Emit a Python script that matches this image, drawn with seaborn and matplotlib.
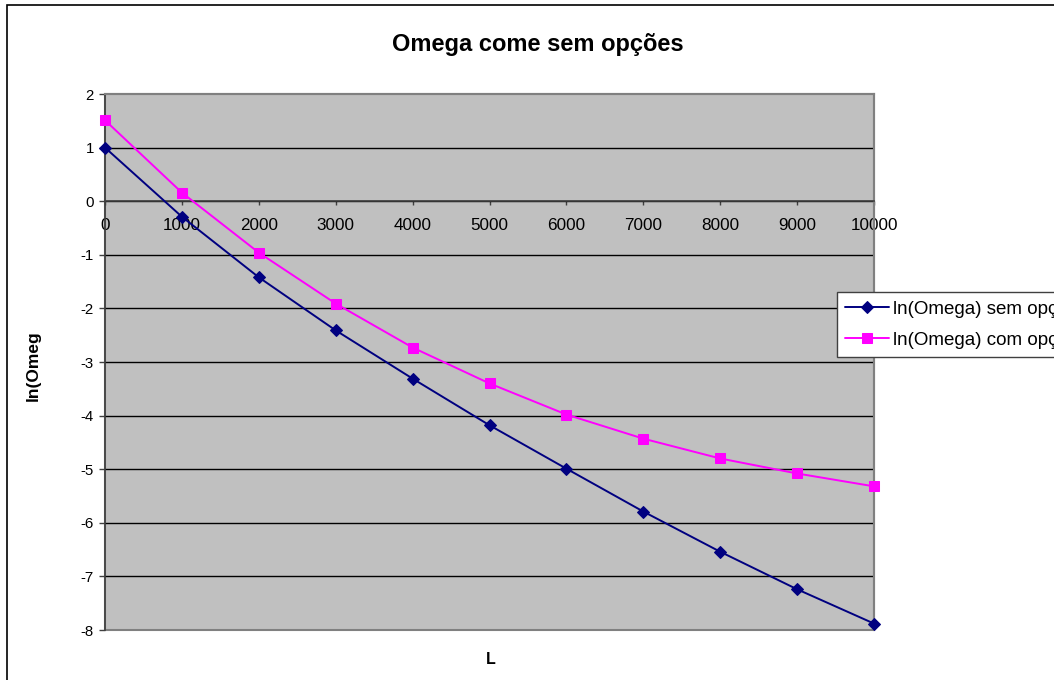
import numpy as np
import pandas as pd
import matplotlib
matplotlib.use("Agg")
import matplotlib.pyplot as plt
from matplotlib.patches import Rectangle
import seaborn as sns

L_values = [0, 1000, 2000, 3000, 4000, 5000, 6000, 7000, 8000, 9000, 10000]
ln_sem = [1.0, -0.29, -1.42, -2.41, -3.31, -4.18, -4.99, -5.79, -6.54, -7.24, -7.88]
ln_com = [1.51, 0.16, -0.96, -1.91, -2.73, -3.40, -3.98, -4.43, -4.80, -5.08, -5.32]
series_names = ["ln(Omega) sem opções", "ln(Omega) com opções"]
y_ticks = [2, 1, 0, -1, -2, -3, -4, -5, -6, -7, -8]
title_text = "Omega come sem opções"
x_label = "L"
y_label = "ln(Omeg"

sns.set_style("white")
plt.rcParams['font.family'] = ['Liberation Sans', 'DejaVu Sans']
plt.rcParams['axes.unicode_minus'] = False
for k in ['text.color', 'xtick.color', 'ytick.color', 'axes.labelcolor']:
    plt.rcParams[k] = 'black'

W, H = 1054, 680
fig = plt.figure(figsize=(W / 100, H / 100), dpi=100)
fig.patch.set_facecolor("white")

# chart area border
fig.patches.append(Rectangle((7 / W, -0.1), 1.2, (H - 5) / H + 0.1, transform=fig.transFigure,
                             fill=False, edgecolor="black", linewidth=1.2, zorder=0))

left, right, top, bottom = 105, 874, 94, 630
ax = fig.add_axes([left / W, 1 - bottom / H, (right - left) / W, (bottom - top) / H])
ax.set_facecolor("#C0C0C0")

df = pd.DataFrame({"L": L_values * 2,
                   "val": ln_sem + ln_com,
                   "serie": [series_names[0]] * len(L_values) + [series_names[1]] * len(L_values)})

sns.lineplot(data=df[df.serie == series_names[0]], x="L", y="val", color="#000080",
             marker="D", markersize=6.5, markeredgecolor="#000080", linewidth=1.4,
             label=series_names[0], ax=ax, clip_on=False, zorder=5)
sns.lineplot(data=df[df.serie == series_names[1]], x="L", y="val", color="#FF00FF",
             marker="s", markersize=6.5, markeredgecolor="#FF00FF", linewidth=1.4,
             label=series_names[1], ax=ax, clip_on=False, zorder=5)

ax.set_xlim(0, 10000)
ax.set_ylim(-8, 2)
ax.set_yticks(y_ticks)
ax.set_xticks(L_values)
ax.set_xticklabels([str(v) for v in L_values])

for yv in y_ticks:
    if -8 < yv < 2:
        ax.axhline(yv, color="black", linewidth=1.0, zorder=1)

for s in ["top", "right"]:
    ax.spines[s].set_color("#808080")
    ax.spines[s].set_linewidth(1.5)
ax.spines["left"].set_color("#404040")
ax.spines["left"].set_linewidth(1.2)
ax.spines["bottom"].set_position(("data", 0))
ax.spines["bottom"].set_color("#404040")
ax.spines["bottom"].set_linewidth(1.2)
ax.add_patch(Rectangle((0, 0), 1, 1, transform=ax.transAxes, fill=False,
                       edgecolor="#808080", linewidth=1.5, zorder=0.5, clip_on=False))

ax.tick_params(axis="x", direction="out", length=3, width=1, color="#404040",
               labelsize=12.3, pad=9, bottom=True, labelcolor="black")
ax.tick_params(axis="y", direction="out", length=4, width=1, color="#404040",
               labelsize=10.8, pad=4, left=True, labelcolor="black")
ax.set_xlabel("")
ax.set_ylabel("")

fig.text(538 / W, 1 - 45 / H, title_text, ha="center", va="center",
         fontsize=17, fontweight="bold", color="black")
fig.text(491 / W, 1 - 660 / H, x_label, ha="center", va="center",
         fontsize=11.5, fontweight="bold", color="black")
fig.text(33 / W, 1 - 401 / H, y_label, ha="center", va="bottom", rotation=90,
         fontsize=12.5, fontweight="bold", color="black")

leg = ax.legend(loc="upper left", bbox_to_anchor=(837 / W, 1 - 292 / H),
                bbox_transform=fig.transFigure, frameon=True, fancybox=False,
                fontsize=13.5, handlelength=2.3, borderpad=0.45, labelspacing=0.75,
                handletextpad=0.25, borderaxespad=0, markerscale=1.0, framealpha=1.0)
leg.get_frame().set_edgecolor("#404040")
leg.get_frame().set_linewidth(1.0)
leg.get_frame().set_facecolor("white")
for t in leg.get_texts():
    t.set_color("black")
leg.set_zorder(10)

fig.savefig("out.png", dpi=100)
